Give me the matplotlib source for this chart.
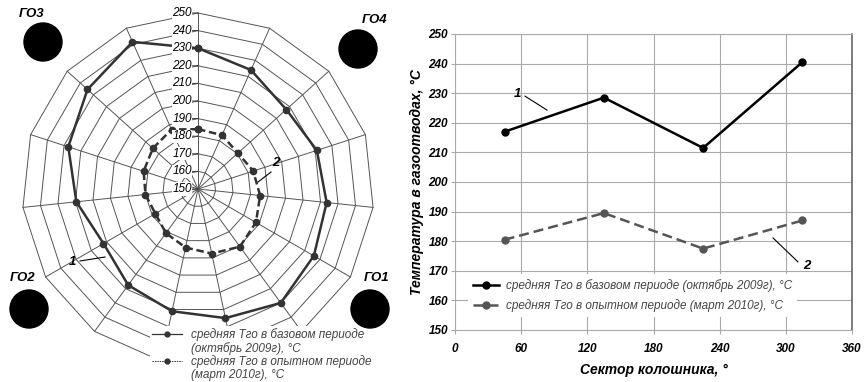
"""
Средняя температура в газоотводах по секторам колошника:
слева - лепестковая диаграмма, справа - по четырём газоотводам.
"""
import numpy as np
import matplotlib
matplotlib.use("Agg")
import matplotlib.pyplot as plt
from matplotlib.lines import Line2D
from matplotlib.patches import Circle

plt.rcParams['font.family'] = ['Liberation Sans', 'DejaVu Sans']

# --- data -----------------------------------------------------------------
# radar: 15 equal sectors, clockwise from the top
n_spokes = 15
radar_base = [230, 224, 217.5, 221, 223.5, 226, 230, 225, 221, 217.5,
              212, 219.5, 227.5, 234.5, 241.5]
radar_exp = [184, 183.5, 180.5, 183, 185.5, 188, 190.5, 187.5, 184, 181,
             178, 180, 182.5, 184.5, 187]
r_ticks = list(range(150, 260, 10))

# line chart: one value per gas offtake sector
sectors = [45, 135, 225, 315]
line_base = [217, 228.5, 211.5, 240.5]
line_exp = [180.5, 189.5, 177.5, 187]
x_ticks = [0, 60, 120, 180, 240, 300, 360]
y_ticks = list(range(150, 260, 10))

lab_base = "средняя Тго в базовом периоде (октябрь 2009г), °С"
lab_exp = "средняя Тго в опытном периоде (март 2010г), °С"
lab_base_2 = ["средняя Тго в базовом периоде", "(октябрь 2009г), °С"]
lab_exp_2 = ["средняя Тго в опытном периоде", "(март 2010г), °С"]

offtakes = ["ГО3", "ГО4", "ГО2", "ГО1"]

W, H = 866, 382
fig = plt.figure(figsize=(W / 100, H / 100), dpi=100)

# --- radar ----------------------------------------------------------------
axr = fig.add_axes([22 / W, 17 / H, 352 / W, 352 / H], projection='polar')
axr.set_theta_zero_location('N')
axr.set_theta_direction(-1)
axr.set_ylim(150, 250)
axr.set_xticks([])
axr.set_yticks([])
axr.grid(False)
axr.spines['polar'].set_visible(False)
axr.patch.set_visible(False)

theta = np.deg2rad(np.arange(n_spokes) * 360 / n_spokes)
theta_c = np.append(theta, theta[0])
grid_kw = dict(color='#555555', lw=0.7, clip_on=False, zorder=1)
for r in r_ticks[1:]:
    axr.plot(theta_c, [r] * len(theta_c), **grid_kw)
for t in theta:
    axr.plot([t, t], [r_ticks[0], r_ticks[-1]], **grid_kw)

axr.plot(theta_c, np.append(radar_base, radar_base[0]), color='#333333',
         lw=1.8, marker='o', ms=4.5, clip_on=False, zorder=3)
axr.plot(theta_c, np.append(radar_exp, radar_exp[0]), color='#333333',
         lw=1.8, ls=(0, (3, 1.5)), marker='o', ms=4.5, clip_on=False, zorder=3)

for r in r_ticks:
    axr.annotate(str(r), xy=(0, r), xytext=(-4.5, 0), textcoords='offset points',
                 ha='right', va='center', fontsize=8.5, style='italic', color='black',
                 bbox=dict(fc='white', ec='none', pad=0.4), zorder=4)
    axr.annotate('', xy=(0, r), xytext=(-4, 0), textcoords='offset points',
                 arrowprops=dict(arrowstyle='-', lw=0.7, color='#333',
                                 shrinkA=0, shrinkB=0), zorder=4)

# curve numbers with leaders (figure pixels, y from the bottom)
num_kw = dict(fontsize=9.5, fontweight='bold', style='italic',
              ha='center', va='center')
fig.text(72 / W, (H - 262) / H, "1", **num_kw)
fig.text(276 / W, (H - 163) / H, "2", **num_kw)
for (x0, y0), (x1, y1) in [((80, 261), (105, 257)), ((271, 172), (258, 182))]:
    fig.add_artist(Line2D([x0 / W, x1 / W], [(H - y0) / H, (H - y1) / H],
                          color='black', lw=0.8))

# gas offtakes
circ = [(43, 42, 19), (358, 49, 19), (29, 309, 19), (370, 309, 19)]
lab_pos = [(32, 14), (375, 20), (23, 278), (377, 278)]
for name, (cx, cy, cr), (lx, ly) in zip(offtakes, circ, lab_pos):
    fig.add_artist(Circle((cx / 100, (H - cy) / 100), cr / 100,
                          transform=fig.dpi_scale_trans, color='black', zorder=6))
    fig.text(lx / W, (H - ly) / H, name, fontsize=9.5, fontweight='bold',
             style='italic', ha='center', va='center')

# radar legend, marker aligned with the first text line
h_base = Line2D([], [], color='#333333', lw=0.9, marker='o', ms=3.5)
h_exp = Line2D([], [], color='#333333', lw=0.7, ls=(0, (1.5, 1)), marker='o', ms=3.5)
h_none = Line2D([], [], ls='none')
leg_r = fig.legend([h_base, h_none, h_exp, h_none],
                   [lab_base_2[0], lab_base_2[1], lab_exp_2[0], lab_exp_2[1]],
                   loc='upper left', bbox_to_anchor=(150 / W, (H - 326) / H),
                   frameon=True, facecolor='white', edgecolor='none', framealpha=1,
                   fancybox=False, borderpad=0.2, borderaxespad=0,
                   labelspacing=0.05, handlelength=2.5, handletextpad=0.8,
                   prop=dict(size=8.5, style='italic'), labelcolor='#444444')

# --- line chart -----------------------------------------------------------
axl = fig.add_axes([455 / W, 52 / H, 397 / W, 296 / H])
axl.plot(sectors, line_base, color='black', lw=1.8, marker='o', ms=5,
         label=lab_base, zorder=3)
axl.plot(sectors, line_exp, color='#555555', lw=1.8, ls=(0, (4, 2)),
         marker='o', ms=5, label=lab_exp, zorder=3)
axl.set_xlim(0, 360)
axl.set_ylim(150, 250)
axl.set_xticks(x_ticks)
axl.set_yticks(y_ticks)
axl.grid(color='#aaaaaa', lw=0.8)
axl.tick_params(length=3, color='#aaaaaa', labelsize=8.5, pad=2)
axl.tick_params(axis='x', pad=6)
for lab in axl.get_xticklabels() + axl.get_yticklabels():
    lab.set_fontweight('bold')
    lab.set_style('italic')
for side in ['top', 'left', 'bottom']:
    axl.spines[side].set_color('#aaaaaa')
axl.spines['right'].set_color('#666666')
axl.spines['right'].set_linewidth(1.2)

axl.set_xlabel("Сектор колошника, °", fontsize=10, fontweight='bold',
               style='italic', labelpad=6)
axl.set_ylabel("Температура в газоотводах, °С", fontsize=10, fontweight='bold',
               style='italic', labelpad=3)

axl.legend(loc='upper left', bbox_to_anchor=(468 / W, (H - 274) / H),
           bbox_transform=fig.transFigure, frameon=True, facecolor='white',
           edgecolor='none', framealpha=1, fancybox=False, borderpad=0.4,
           borderaxespad=0, labelspacing=0.63, handlelength=2.2,
           handletextpad=0.6, prop=dict(size=8.5, style='italic'),
           labelcolor='#444444')

axl.text(57, 229.7, "1", **num_kw)
axl.plot([63.5, 83.4], [229, 224.3], color='black', lw=0.8)
axl.text(319, 171.6, "2", **num_kw)
axl.plot([311, 288.4], [173, 181.1], color='black', lw=0.8)

fig.savefig("out.png", dpi=100)
